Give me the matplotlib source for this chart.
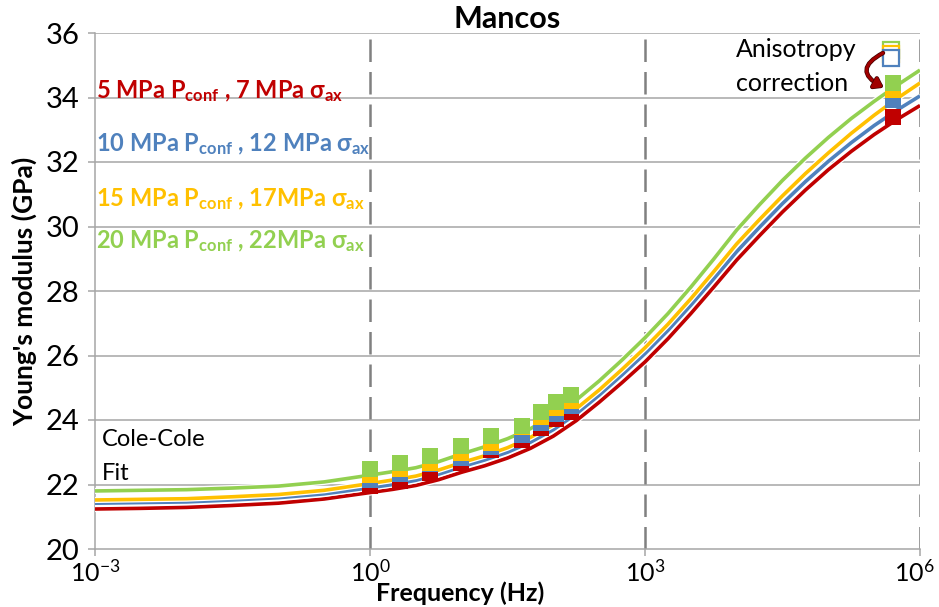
import matplotlib
matplotlib.use("Agg")
import matplotlib.pyplot as plt
from matplotlib.patches import FancyArrowPatch
import matplotlib.patheffects as pe
import matplotlib.transforms as mtransforms

plt.rcParams['font.family'] = ['Lato', 'DejaVu Sans']
plt.rcParams['mathtext.fontset'] = 'custom'
plt.rcParams['mathtext.rm'] = 'Lato'
plt.rcParams['mathtext.bf'] = 'Lato:bold'
plt.rcParams['mathtext.it'] = 'Lato:italic'

# ---------------- data ----------------
fit_freq = [1e-3, 3.16e-3, 1e-2, 3.16e-2, 1e-1, 0.316,
            1, 1.78, 3.16, 5.62, 10, 17.8, 31.6, 56.2, 100, 178, 316, 562,
            1e3, 1780, 3160, 5620, 1e4, 1.78e4, 3.16e4, 5.62e4,
            1e5, 1.78e5, 3.16e5, 5.62e5, 1e6]
fit_red = [21.24, 21.26, 21.29, 21.35, 21.42, 21.55,
           21.75, 21.85, 21.97, 22.15, 22.38, 22.58, 22.82, 23.12, 23.50, 23.98, 24.55, 25.16,
           25.80, 26.52, 27.30, 28.12, 28.96, 29.72, 30.45, 31.13,
           31.76, 32.33, 32.85, 33.32, 33.75]
fit_blue = [21.42, 21.44, 21.46, 21.52, 21.59, 21.71,
            21.90, 22.00, 22.13, 22.32, 22.55, 22.76, 23.00, 23.31, 23.70, 24.19, 24.77, 25.40,
            26.06, 26.78, 27.56, 28.38, 29.22, 29.98, 30.71, 31.39,
            32.02, 32.60, 33.13, 33.61, 34.05]
fit_yellow = [21.52, 21.54, 21.56, 21.62, 21.69, 21.82,
              22.03, 22.14, 22.26, 22.45, 22.68, 22.89, 23.14, 23.46, 23.85, 24.35, 24.93, 25.57,
              26.24, 26.97, 27.76, 28.60, 29.46, 30.22, 30.95, 31.64,
              32.28, 32.89, 33.45, 33.97, 34.45]
fit_green = [21.80, 21.82, 21.84, 21.89, 21.95, 22.08,
             22.29, 22.40, 22.52, 22.71, 22.95, 23.17, 23.42, 23.73, 24.12, 24.62, 25.21, 25.86,
             26.55, 27.30, 28.12, 28.99, 29.89, 30.68, 31.43, 32.12,
             32.76, 33.35, 33.88, 34.38, 34.85]

meas_freq = [1.0, 2.1, 4.5, 9.8, 21, 45, 74, 108, 156]
meas_red = [21.94, 22.11, 22.37, 22.66, 23.08, 23.39, 23.75, 24.04, 24.26]
meas_blue = [22.15, 22.33, 22.64, 22.82, 23.15, 23.54, 23.90, 24.19, 24.42]
meas_yellow = [22.30, 22.49, 22.66, 22.97, 23.30, 23.77, 24.08, 24.37, 24.60]
meas_green = [22.47, 22.67, 22.89, 23.20, 23.51, 23.82, 24.25, 24.56, 24.79]

us_freq = 5.1e5
us_red, us_blue, us_yellow, us_green = 33.38, 33.93, 34.24, 34.44
raw_freq = 4.85e5
raw_blue, raw_yellow, raw_green = 35.24, 35.36, 35.46

labels = ["5 MPa P$_{\\mathbf{conf}}$ , 7 MPa σ$_{\\mathbf{ax}}$",
          "10 MPa P$_{\\mathbf{conf}}$ , 12 MPa σ$_{\\mathbf{ax}}$",
          "15 MPa P$_{\\mathbf{conf}}$ , 17MPa σ$_{\\mathbf{ax}}$",
          "20 MPa P$_{\\mathbf{conf}}$ , 22MPa σ$_{\\mathbf{ax}}$"]
label_y = [34.2, 32.55, 30.85, 29.55]

colors = ['#C00000', '#4F81BD', '#FFC000', '#92D050']
fits = [fit_red, fit_blue, fit_yellow, fit_green]
meas = [meas_red, meas_blue, meas_yellow, meas_green]

xticks = [1e-3, 1e0, 1e3, 1e6]
xticklabels = ['$10^{-3}$', '$10^{0}$', '$10^{3}$', '$10^{6}$']
yticks = [20, 22, 24, 26, 28, 30, 32, 34, 36]

# ---------------- figure ----------------
fig = plt.figure(figsize=(9.39, 6.07), dpi=100)
ax = fig.add_axes([95/939, 1-549/607, 825/939, 516/607])
ax.set_xscale('log')
ax.set_xlim(1e-3, 1e6)
ax.set_ylim(20, 36)

grid_c = '#A6A6A6'
for yv in yticks[1:]:
    ax.axhline(yv, color=grid_c, lw=1.1, zorder=1)
for xv in xticks[1:]:
    ax.axvline(xv, color='#808080', lw=1.8, ls=(0, (9, 4)), zorder=1)

for s in ['top', 'right']:
    ax.spines[s].set_visible(False)
for s in ['left', 'bottom']:
    ax.spines[s].set_color(grid_c)
    ax.spines[s].set_linewidth(1.1)

for c, f in zip(colors, fits):
    ax.plot(fit_freq, f, color=c, lw=2.6, zorder=3, solid_capstyle='butt',
            path_effects=[pe.Stroke(linewidth=4.4, foreground='white'), pe.Normal()])

for c, m in zip(colors, meas):
    ax.plot(meas_freq, m, ls='none', marker='s', ms=12, color=c, mec=c, mew=0, zorder=4)

for c, v in zip(colors, [us_red, us_blue, us_yellow, us_green]):
    ax.plot([us_freq], [v], ls='none', marker='s', ms=12, color=c, mec=c, mew=0, zorder=4)

for c, v in zip([colors[3], colors[2], colors[1]], [raw_green, raw_yellow, raw_blue]):
    ax.plot([raw_freq], [v], ls='none', marker='s', ms=11, mfc='white', mec=c, mew=1.6, zorder=5)

arr = FancyArrowPatch((4.2e5, 35.42), (4.2e5, 34.28), connectionstyle='arc3,rad=1.0',
                      arrowstyle='-|>,head_length=5,head_width=3.5', color='#A00000', lw=2.2,
                      zorder=6, path_effects=[pe.Stroke(linewidth=3.2, foreground='#400000'), pe.Normal()])
ax.add_patch(arr)

ax.set_xticks(xticks)
ax.set_xticklabels(xticklabels)
ax.minorticks_off()
ax.set_yticks(yticks)
ax.tick_params(axis='both', colors=grid_c, labelcolor='black', length=5, width=1.1)
ax.tick_params(axis='x', pad=2, labelsize=18)
ax.tick_params(axis='y', pad=6, labelsize=21)

last = ax.get_xticklabels()[-1]
last.set_transform(last.get_transform() + mtransforms.ScaledTranslation(-6/100, 0, fig.dpi_scale_trans))

ax.set_title('Mancos', fontsize=22, fontweight='bold', pad=3)
ax.set_xlabel('Frequency (Hz)', fontsize=18, fontweight='bold')
ax.xaxis.set_label_coords((460 - 95) / 825, -32 / 516)
ax.set_ylabel("Young's modulus (GPa)", fontsize=19, fontweight='bold', labelpad=6)

for lab, yv, c in zip(labels, label_y, colors):
    ax.text(1.03e-3, yv, lab, color=c, fontsize=17, fontweight='bold', va='center', ha='left', zorder=7)

ax.text(1.2e-3, 23.4, 'Cole-Cole', fontsize=17, va='center', ha='left')
ax.text(1.2e-3, 22.35, 'Fit', fontsize=17, va='center', ha='left')
ax.text(9.8e3, 35.5, 'Anisotropy', fontsize=18, va='center', ha='left')
ax.text(9.8e3, 34.42, 'correction', fontsize=18, va='center', ha='left')

fig.savefig('out.png', dpi=100)
